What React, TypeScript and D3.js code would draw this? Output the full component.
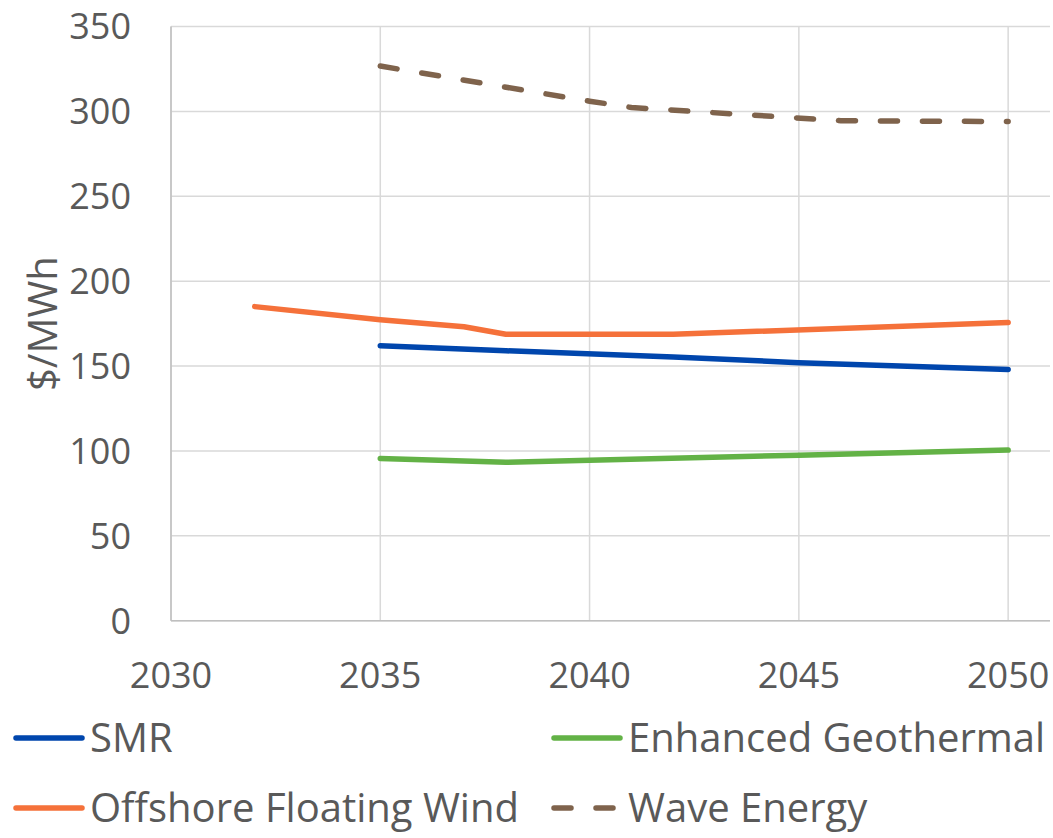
import * as d3 from "d3";

const smrYears = [2035, 2038, 2042, 2045, 2050];
const smrValues = [162, 159, 155.3, 152, 148];

const geoYears = [2035, 2038, 2040, 2045, 2050];
const geoValues = [95.6, 93.3, 94.5, 97.5, 100.5];

const windYears = [2032, 2035, 2037, 2038, 2042, 2050];
const windValues = [185, 177.3, 173.1, 168.7, 168.7, 175.7];

const waveYears = [2035, 2040, 2041, 2046, 2050];
const waveValues = [326.7, 306, 302.3, 294.5, 294];

const yTicks = [0, 50, 100, 150, 200, 250, 300, 350];
const xTicks = [2030, 2035, 2040, 2045, 2050];

const series = [
  { name: "SMR", years: smrYears, values: smrValues, color: "#0046ad", dashed: false },
  { name: "Enhanced Geothermal", years: geoYears, values: geoValues, color: "#63b246", dashed: false },
  { name: "Offshore Floating Wind", years: windYears, values: windValues, color: "#f5713a", dashed: false },
  { name: "Wave Energy", years: waveYears, values: waveValues, color: "#7f634c", dashed: true },
];

const W = 1053;
const H = 838;
const plot = { left: 171, right: 1050, top: 26.5, bottom: 620.7 };
const font = "'Open Sans', 'Segoe UI', sans-serif";
const textColor = "#595959";

export default function App() {
  const x = d3.scaleLinear().domain([2030, 2051]).range([plot.left, plot.right]);
  const y = d3.scaleLinear().domain([0, 350]).range([plot.bottom, plot.top]);

  const line = d3
    .line<[number, number]>()
    .x((d) => x(d[0]))
    .y((d) => y(d[1]));

  const legendPos = [
    { x: 15, y: 738 },
    { x: 553, y: 738 },
    { x: 15, y: 808 },
    { x: 553, y: 808 },
  ];

  return (
    <svg
      width={W}
      height={H}
      style={{ position: "absolute", left: 0, top: 0, background: "#fff" }}
      fontFamily={font}
    >
      {/* grid */}
      {yTicks.map((t) => (
        <line key={"gy" + t} x1={plot.left} x2={plot.right} y1={y(t)} y2={y(t)} stroke="#d9d9d9" strokeWidth={1.5} />
      ))}
      {xTicks.map((t) => (
        <line key={"gx" + t} x1={x(t)} x2={x(t)} y1={plot.top} y2={plot.bottom} stroke="#d9d9d9" strokeWidth={1.5} />
      ))}
      {/* axes */}
      <line x1={plot.left} x2={plot.left} y1={plot.top} y2={plot.bottom} stroke="#bfbfbf" strokeWidth={1.5} />
      <line x1={plot.left} x2={plot.right} y1={plot.bottom} y2={plot.bottom} stroke="#bfbfbf" strokeWidth={1.5} />

      {yTicks.map((t) => (
        <text key={"ty" + t} x={131} y={y(t)} dy="0.36em" textAnchor="end" fontSize={36} fill={textColor}>
          {t}
        </text>
      ))}
      {xTicks.map((t) => (
        <text key={"tx" + t} x={x(t)} y={675} dy="0.36em" textAnchor="middle" fontSize={36} fill={textColor}>
          {t}
        </text>
      ))}
      <text
        transform={`translate(57, ${(plot.top + plot.bottom) / 2}) rotate(-90)`}
        textAnchor="middle"
        fontSize={40}
        fill={textColor}
      >
        $/MWh
      </text>

      {series.map((s) => (
        <path
          key={s.name}
          d={line(s.years.map((yr, i) => [yr, s.values[i]] as [number, number])) || ""}
          fill="none"
          stroke={s.color}
          strokeWidth={5.5}
          strokeLinecap="round"
          strokeLinejoin="round"
          strokeDasharray={s.dashed ? "17 25" : undefined}
        />
      ))}

      {series.map((s, i) => (
        <g key={"lg" + s.name} transform={`translate(${legendPos[i].x}, ${legendPos[i].y})`}>
          <line
            x1={1}
            x2={s.dashed ? 68 : 67}
            y1={0}
            y2={0}
            stroke={s.color}
            strokeWidth={5.5}
            strokeLinecap="round"
            strokeDasharray={s.dashed ? "17 25" : undefined}
          />
          <text x={75} y={0} dy="0.36em" fontSize={40} fill={textColor}>
            {s.name}
          </text>
        </g>
      ))}
    </svg>
  );
}
